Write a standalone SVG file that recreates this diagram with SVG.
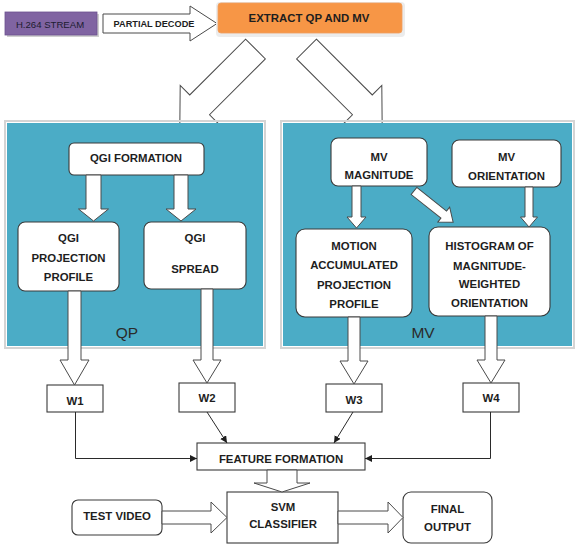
<svg xmlns="http://www.w3.org/2000/svg" width="577" height="545" viewBox="0 0 577 545">
<style>
.t{font-family:"Liberation Sans",Arial,sans-serif;font-weight:bold;font-size:11.4px;fill:#1e1e1e;text-anchor:middle}
.box{fill:#fff;stroke:#3a3a3a;stroke-width:1.1}
.hol{fill:#fff;stroke:#4a4a4a;stroke-width:1}
.panel{fill:#4bacc6}
.pframe{fill:none;stroke:#d4d4d4;stroke-width:2}
.lab{font-family:"Liberation Sans",Arial,sans-serif;font-size:15.5px;fill:#2a2a2a;text-anchor:middle}
.con{fill:none;stroke:#2a2a2a;stroke-width:1}
</style>
<defs>
<marker id="ah" markerUnits="userSpaceOnUse" markerWidth="8" markerHeight="8" refX="7" refY="3.5" orient="auto">
<path d="M0,0 L7,3.5 L0,7 Z" fill="#1e1e1e"/>
</marker>
</defs>
<rect width="577" height="545" fill="#fff"/>

<!-- top row -->
<g id="h264">
<rect x="7" y="14" width="92" height="23" fill="#cfcfcf"/>
<rect x="5" y="12" width="92" height="23" fill="#8064a2" stroke="#6b5290" stroke-width="0.8"/>
<text x="50" y="27.5" class="t" style="font-weight:normal;font-size:9.6px;fill:#1c1c30">H.264 STREAM</text>
</g>
<g id="partial-decode">
<polygon class="hol" points="103,14 190,14 190,6 217,23.5 190,41 190,33 103,33"/>
<text x="154" y="27.2" class="t" style="font-size:9.2px">PARTIAL DECODE</text>
</g>
<g id="extract">
<rect x="216" y="2" width="189" height="35" rx="4" fill="#ececec"/>
<rect x="218" y="3" width="184" height="30" rx="3" fill="#f79646" stroke="#f0a060" stroke-width="0.8"/>
<text x="309" y="22.2" class="t">EXTRACT QP AND MV</text>
</g>

<!-- connectors group -->
<g id="connectors">
<polygon class="hol" points="0,-14 79,-14 79,-27.5 107,0 79,27.5 79,14 0,14" transform="translate(255.5,49) rotate(135)"/>
<polygon class="hol" points="0,-14 79,-14 79,-27.5 107,0 79,27.5 79,14 0,14" transform="translate(306.5,49) rotate(45)"/>
</g>

<!-- panels -->
<g id="panel-qp">
<rect class="pframe" x="5" y="121" width="260" height="227"/>
<rect class="panel" x="7" y="123" width="256" height="223"/>
<text x="127" y="338" class="lab">QP</text>
</g>
<g id="panel-mv">
<rect class="pframe" x="281" y="121" width="293" height="227"/>
<rect class="panel" x="283" y="123" width="289" height="223"/>
<text x="423" y="338" class="lab">MV</text>
</g>

<g id="qgi-formation">
<rect class="box" x="69" y="143" width="135" height="32" rx="5"/>
<text x="136" y="162" class="t">QGI FORMATION</text>
</g>
<g id="qgi-projection">
<rect class="box" x="18" y="222" width="101" height="69" rx="7"/>
<text x="68.5" y="242" class="t">QGI</text>
<text x="68.5" y="262" class="t">PROJECTION</text>
<text x="68.5" y="281" class="t">PROFILE</text>
</g>
<g id="qgi-spread">
<rect class="box" x="144" y="222" width="102" height="67" rx="7"/>
<text x="195" y="242" class="t">QGI</text>
<text x="195" y="273" class="t">SPREAD</text>
</g>
<g id="mv-magnitude">
<rect class="box" x="331" y="138" width="96" height="48" rx="7"/>
<text x="379" y="161" class="t">MV</text>
<text x="379" y="179" class="t">MAGNITUDE</text>
</g>
<g id="mv-orientation">
<rect class="box" x="452" y="140" width="109" height="47" rx="7"/>
<text x="506.5" y="161" class="t">MV</text>
<text x="506.5" y="180" class="t">ORIENTATION</text>
</g>
<g id="motion-accumulated">
<rect class="box" x="296" y="229" width="116" height="88" rx="9"/>
<text x="354" y="250" class="t">MOTION</text>
<text x="354" y="269" class="t">ACCUMULATED</text>
<text x="354" y="289" class="t">PROJECTION</text>
<text x="354" y="308" class="t">PROFILE</text>
</g>
<g id="histogram">
<rect class="box" x="429" y="227" width="121" height="89" rx="9"/>
<text x="489.5" y="250" class="t">HISTOGRAM OF</text>
<text x="489.5" y="270" class="t">MAGNITUDE-</text>
<text x="489.5" y="288" class="t">WEIGHTED</text>
<text x="489.5" y="307" class="t">ORIENTATION</text>
</g>

<g id="w1"><rect class="box" x="47" y="385" width="56" height="27"/><text x="75" y="405" class="t">W1</text></g>
<g id="w2"><rect class="box" x="179" y="383" width="56" height="29"/><text x="207" y="402" class="t">W2</text></g>
<g id="w3"><rect class="box" x="326" y="384" width="56" height="28"/><text x="354" y="404" class="t">W3</text></g>
<g id="w4"><rect class="box" x="463" y="383" width="56" height="29"/><text x="491" y="402" class="t">W4</text></g>

<g id="feature-formation"><rect class="box" x="197" y="443" width="168" height="27"/><text x="281" y="463" class="t">FEATURE FORMATION</text></g>
<g id="svm"><rect class="box" x="227" y="492" width="111" height="51"/><text x="283" y="511" class="t">SVM</text><text x="283" y="528" class="t">CLASSIFIER</text></g>
<g id="test-video"><rect class="box" x="72" y="500" width="90" height="35" rx="6"/><text x="117" y="520" class="t">TEST VIDEO</text></g>
<g id="final-output"><rect class="box" x="403" y="492" width="89" height="51" rx="8"/><text x="447.5" y="513" class="t">FINAL</text><text x="447.5" y="531" class="t">OUTPUT</text></g>

<g id="connectors-2">
<polygon class="hol" points="86,175 101,175 101,209 108.5,209 93.5,221 78.5,209 86,209"/>
<polygon class="hol" points="174,175 188,175 188,209 196,209 181,221 166,209 174,209"/>
<polygon class="hol" points="352,186 361,186 361,217 366,217 356.5,228 347,217 352,217"/>
<polygon class="hol" points="525,187 533,187 533,217 537.5,217 529,227 520.5,217 525,217"/>
<polygon class="hol" points="0,-4.5 38,-4.5 38,-9.5 50,0 38,9.5 38,4.5 0,4.5" transform="translate(414,191) rotate(38.5)"/>
<polygon class="hol" points="68,291 81,291 81,360 89,360 74.5,385 60,360 68,360"/>
<polygon class="hol" points="201,289 213,289 213,360 221,360 207,383 193,360 201,360"/>
<polygon class="hol" points="348,317 360,317 360,361 368,361 354,384 340,361 348,361"/>
<polygon class="hol" points="485,316 497,316 497,360 505,360 491,383 477,360 485,360"/>
<path class="con" d="M75.5,412 V458.5 H197" marker-end="url(#ah)"/>
<path class="con" d="M490.5,412 V458.5 H365" marker-end="url(#ah)"/>
<path class="con" d="M207,412 L227,443" marker-end="url(#ah)"/>
<path class="con" d="M353,412 L334,443" marker-end="url(#ah)"/>
<polygon class="hol" points="267,470 297,470 297,483 310,483 282,492 254,483 267,483"/>
<polygon class="hol" points="162,511 211,511 211,502 227,517.5 211,533 211,524 162,524"/>
<polygon class="hol" points="338,511 388,511 388,502 403,517.5 388,533 388,524 338,524"/>
</g>
</svg>
